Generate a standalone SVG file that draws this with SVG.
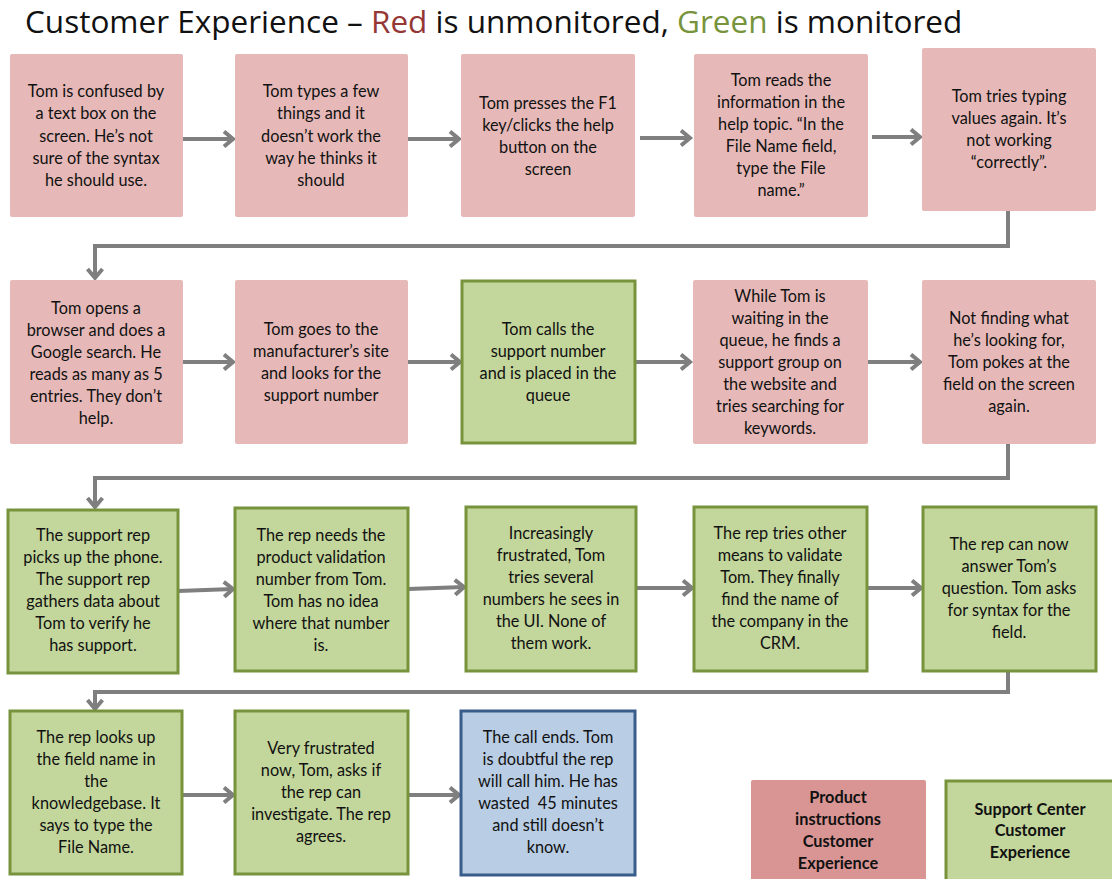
<svg xmlns="http://www.w3.org/2000/svg" width="1112" height="879" viewBox="0 0 1112 879">
<style>
.t{font-family:Lato,"Liberation Sans",sans-serif;font-size:16.3px;fill:#111;text-anchor:middle}
.b{font-weight:bold}
.red{fill:#e6b9b8}
.grn{fill:#c3d69b;stroke:#77933c;stroke-width:3}
.blu{fill:#b9cde5;stroke:#385d8a;stroke-width:3}
.lred{fill:#d99594}
.c{fill:none;stroke:#7f7f7f;stroke-width:4;marker-end:url(#ah)}
.title{font-family:"Open Sans","Liberation Sans",sans-serif;font-size:31.5px;fill:#111}
</style>
<defs>
<marker id="ah" markerUnits="userSpaceOnUse" markerWidth="18" markerHeight="22" refX="12" refY="9" orient="auto">
<path d="M3,1.5 L12,9 L3,16.5" fill="none" stroke="#7f7f7f" stroke-width="4"/>
</marker>
</defs>
<text class="title" x="25" y="33">Customer Experience – <tspan fill="#953735">Red</tspan> is unmonitored, <tspan fill="#77933c">Green</tspan> is monitored</text>

<g id="connectors">
<path class="c" d="M183,139 H233"/>
<path class="c" d="M408,139 H459"/>
<path class="c" d="M640,138 H690"/>
<path class="c" d="M872,137 H920"/>
<path class="c" d="M1008,211 V246 H95 V278"/>
<path class="c" d="M183,362 H233"/>
<path class="c" d="M408,362 H460"/>
<path class="c" d="M635,362 H690"/>
<path class="c" d="M868,362 H920"/>
<path class="c" d="M1008,444 V478 H95 V507"/>
<path class="c" d="M178,591 L233,589"/>
<path class="c" d="M408,589 L464,587"/>
<path class="c" d="M636,588 H692"/>
<path class="c" d="M867,588 H921"/>
<path class="c" d="M1008,671 V692 H95 V709"/>
<path class="c" d="M182,795 H233"/>
<path class="c" d="M408,795 H459"/>
</g>

<g id="n1"><rect class="red" x="10" y="54" width="173" height="163" rx="2"/>
<text class="t" x="96" y="97">Tom is confused by</text><text class="t" x="96" y="119">a text box on the</text><text class="t" x="96" y="142">screen. He’s not</text><text class="t" x="96" y="164">sure of the syntax</text><text class="t" x="96" y="186">he should use.</text></g>

<g id="n2"><rect class="red" x="235" y="54" width="173" height="163" rx="2"/>
<text class="t" x="321" y="97">Tom types a few</text><text class="t" x="321" y="119">things and it</text><text class="t" x="321" y="142">doesn’t work the</text><text class="t" x="321" y="164">way he thinks it</text><text class="t" x="321" y="186">should</text></g>

<g id="n3"><rect class="red" x="461" y="54" width="174" height="163" rx="2"/>
<text class="t" x="548" y="109">Tom presses the F1</text><text class="t" x="548" y="131">key/clicks the help</text><text class="t" x="548" y="153">button on the</text><text class="t" x="548" y="175">screen</text></g>

<g id="n4"><rect class="red" x="694" y="54" width="174" height="163" rx="2"/>
<text class="t" x="781" y="86">Tom reads the</text><text class="t" x="781" y="108">information in the</text><text class="t" x="781" y="130">help topic. “In the</text><text class="t" x="781" y="152">File Name field,</text><text class="t" x="781" y="174">type the File</text><text class="t" x="781" y="196">name.”</text></g>

<g id="n5"><rect class="red" x="922" y="48" width="174" height="163" rx="2"/>
<text class="t" x="1009" y="102">Tom tries typing</text><text class="t" x="1009" y="124">values again. It’s</text><text class="t" x="1009" y="146">not working</text><text class="t" x="1009" y="168">“correctly”.</text></g>

<g id="n6"><rect class="red" x="10" y="280" width="173" height="164" rx="2"/>
<text class="t" x="96" y="314">Tom opens a</text><text class="t" x="96" y="336">browser and does a</text><text class="t" x="96" y="358">Google search. He</text><text class="t" x="96" y="380">reads as many as 5</text><text class="t" x="96" y="402">entries. They don’t</text><text class="t" x="96" y="424">help.</text></g>

<g id="n7"><rect class="red" x="235" y="280" width="173" height="164" rx="2"/>
<text class="t" x="321" y="335">Tom goes to the</text><text class="t" x="321" y="357">manufacturer’s site</text><text class="t" x="321" y="379">and looks for the</text><text class="t" x="321" y="401">support number</text></g>

<g id="n8"><rect class="grn" x="462" y="281" width="173" height="162"/>
<text class="t" x="548" y="335">Tom calls the</text><text class="t" x="548" y="357">support number</text><text class="t" x="548" y="379">and is placed in the</text><text class="t" x="548" y="401">queue</text></g>

<g id="n9"><rect class="red" x="693" y="280" width="175" height="164" rx="2"/>
<text class="t" x="780" y="302">While Tom is</text><text class="t" x="780" y="324">waiting in the</text><text class="t" x="780" y="346">queue, he finds a</text><text class="t" x="780" y="368">support group on</text><text class="t" x="780" y="390">the website and</text><text class="t" x="780" y="412">tries searching for</text><text class="t" x="780" y="434">keywords.</text></g>

<g id="n10"><rect class="red" x="922" y="280" width="174" height="164" rx="2"/>
<text class="t" x="1009" y="324">Not finding what</text><text class="t" x="1009" y="346">he’s looking for,</text><text class="t" x="1009" y="368">Tom pokes at the</text><text class="t" x="1009" y="390">field on the screen</text><text class="t" x="1009" y="412">again.</text></g>

<g id="n11"><rect class="grn" x="8" y="510" width="170" height="163"/>
<text class="t" x="93" y="541">The support rep</text><text class="t" x="93" y="563">picks up the phone.</text><text class="t" x="93" y="585">The support rep</text><text class="t" x="93" y="607">gathers data about</text><text class="t" x="93" y="629">Tom to verify he</text><text class="t" x="93" y="651">has support.</text></g>

<g id="n12"><rect class="grn" x="235" y="508" width="173" height="163"/>
<text class="t" x="321" y="541">The rep needs the</text><text class="t" x="321" y="563">product validation</text><text class="t" x="321" y="585">number from Tom.</text><text class="t" x="321" y="607">Tom has no idea</text><text class="t" x="321" y="629">where that number</text><text class="t" x="321" y="651">is.</text></g>

<g id="n13"><rect class="grn" x="466" y="507" width="170" height="164"/>
<text class="t" x="551" y="539">Increasingly</text><text class="t" x="551" y="561">frustrated, Tom</text><text class="t" x="551" y="583">tries several</text><text class="t" x="551" y="605">numbers he sees in</text><text class="t" x="551" y="627">the UI. None of</text><text class="t" x="551" y="649">them work.</text></g>

<g id="n14"><rect class="grn" x="694" y="507" width="173" height="164"/>
<text class="t" x="780" y="539">The rep tries other</text><text class="t" x="780" y="561">means to validate</text><text class="t" x="780" y="583">Tom. They finally</text><text class="t" x="780" y="605">find the name of</text><text class="t" x="780" y="627">the company in the</text><text class="t" x="780" y="649">CRM.</text></g>

<g id="n15"><rect class="grn" x="923" y="507" width="173" height="164"/>
<text class="t" x="1009" y="550">The rep can now</text><text class="t" x="1009" y="572">answer Tom’s</text><text class="t" x="1009" y="594">question. Tom asks</text><text class="t" x="1009" y="616">for syntax for the</text><text class="t" x="1009" y="638">field.</text></g>

<g id="n16"><rect class="grn" x="10" y="711" width="172" height="163"/>
<text class="t" x="96" y="743">The rep looks up</text><text class="t" x="96" y="765">the field name in</text><text class="t" x="96" y="787">the</text><text class="t" x="96" y="809">knowledgebase. It</text><text class="t" x="96" y="831">says to type the</text><text class="t" x="96" y="853">File Name.</text></g>

<g id="n17"><rect class="grn" x="235" y="711" width="173" height="163"/>
<text class="t" x="321" y="754">Very frustrated</text><text class="t" x="321" y="776">now, Tom, asks if</text><text class="t" x="321" y="798">the rep can</text><text class="t" x="321" y="820">investigate. The rep</text><text class="t" x="321" y="842">agrees.</text></g>

<g id="n18"><rect class="blu" x="461" y="711" width="174" height="164"/>
<text class="t" x="548" y="743">The call ends. Tom</text><text class="t" x="548" y="765">is doubtful the rep</text><text class="t" x="548" y="787">will call him. He has</text><text class="t" x="548" y="809">wasted&#160; 45 minutes</text><text class="t" x="548" y="831">and still doesn’t</text><text class="t" x="548" y="853">know.</text></g>

<g id="legend-red"><rect class="lred" x="751" y="780" width="175" height="110" rx="2"/>
<text class="t b" x="838" y="803">Product</text><text class="t b" x="838" y="825">instructions</text><text class="t b" x="838" y="847">Customer</text><text class="t b" x="838" y="869">Experience</text></g>

<g id="legend-green"><rect class="grn" x="946" y="781" width="175" height="110"/>
<text class="t b" x="1030" y="815">Support Center</text><text class="t b" x="1030" y="836">Customer</text><text class="t b" x="1030" y="858">Experience</text></g>
</svg>
